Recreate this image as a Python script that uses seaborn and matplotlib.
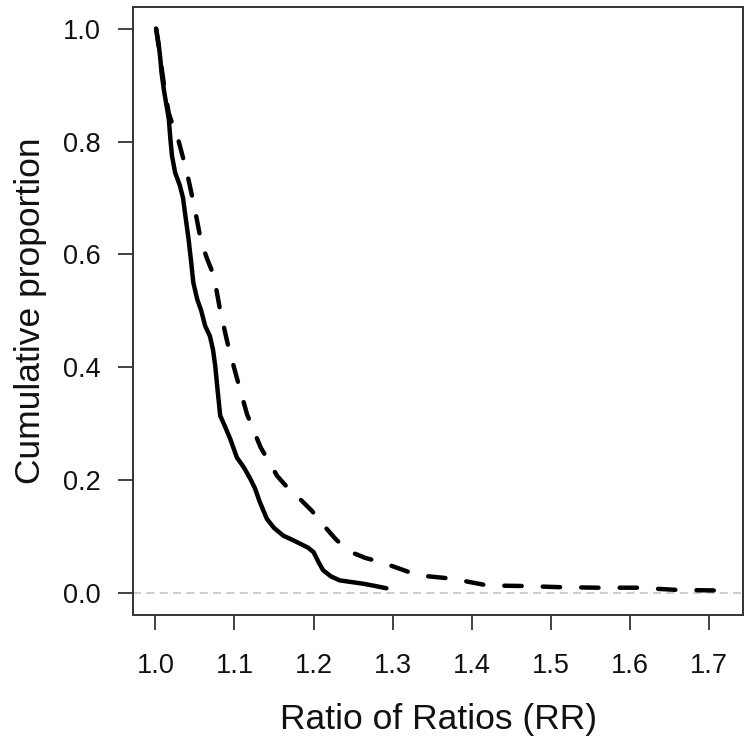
import matplotlib
matplotlib.use("Agg")
import matplotlib.pyplot as plt
import seaborn as sns
import pandas as pd

# Solid curve (series A): ratio of ratios vs cumulative proportion
rr_a = [1.001, 1.004, 1.006, 1.008, 1.011, 1.014, 1.017, 1.019, 1.021, 1.025,
        1.031, 1.035, 1.038, 1.042, 1.045, 1.048, 1.053, 1.058, 1.063, 1.069,
        1.073, 1.0757, 1.079, 1.082, 1.088, 1.0946, 1.103, 1.112, 1.120, 1.126,
        1.132, 1.141, 1.150, 1.162, 1.173, 1.183, 1.193, 1.200, 1.206, 1.212,
        1.222, 1.233, 1.248, 1.263, 1.278, 1.292]
cp_a = [1.000, 0.975, 0.951, 0.920, 0.890, 0.865, 0.840, 0.805, 0.775, 0.745,
        0.722, 0.700, 0.668, 0.627, 0.590, 0.550, 0.520, 0.500, 0.473, 0.455,
        0.430, 0.402, 0.355, 0.314, 0.295, 0.273, 0.240, 0.222, 0.202, 0.185,
        0.161, 0.131, 0.115, 0.101, 0.094, 0.087, 0.080, 0.072, 0.055, 0.040,
        0.029, 0.022, 0.019, 0.016, 0.012, 0.008]

# Dashed curve (series B)
rr_b = [1.001, 1.006, 1.011, 1.017, 1.023, 1.029, 1.040, 1.050, 1.058, 1.066,
        1.074, 1.082, 1.092, 1.104, 1.116, 1.133, 1.154, 1.168, 1.183, 1.198,
        1.213, 1.228, 1.244, 1.265, 1.288, 1.310, 1.332, 1.375, 1.42, 1.465,
        1.51, 1.56, 1.61, 1.66, 1.715]
cp_b = [1.000, 0.950, 0.900, 0.850, 0.825, 0.803, 0.745, 0.680, 0.621, 0.590,
        0.562, 0.500, 0.438, 0.376, 0.316, 0.258, 0.207, 0.185, 0.166, 0.145,
        0.119, 0.095, 0.074, 0.062, 0.053, 0.042, 0.031, 0.025, 0.013, 0.012,
        0.010, 0.009, 0.009, 0.005, 0.004]

x_ticks = [1.0, 1.1, 1.2, 1.3, 1.4, 1.5, 1.6, 1.7]
y_ticks = [0.0, 0.2, 0.4, 0.6, 0.8, 1.0]
x_label = "Ratio of Ratios (RR)"
y_label = "Cumulative proportion"

sns.set_style("white")
plt.rcParams["font.family"] = ["Liberation Sans", "DejaVu Sans"]

fig = plt.figure(figsize=(7.44, 7.47), dpi=100)
ax = fig.add_axes([0.179, 0.177, 0.820, 0.814])

df_a = pd.DataFrame({"rr": rr_a, "cp": cp_a})
df_b = pd.DataFrame({"rr": rr_b, "cp": cp_b})

ax.axhline(0, color="#c4c4c4", lw=1.2, linestyle=(0, (4.8, 3.2)), zorder=1)

sns.lineplot(data=df_a, x="rr", y="cp", sort=False, estimator=None,
             color="black", lw=3.2, ax=ax, zorder=3)
sns.lineplot(data=df_b, x="rr", y="cp", sort=False, estimator=None,
             color="black", lw=3.2, ax=ax, zorder=3,
             linestyle=(0, (3.9, 4.75)), dash_capstyle="round")

ax.set_xlim(0.972, 1.743)
ax.set_ylim(-0.039, 1.039)
ax.set_xticks(x_ticks)
ax.set_xticklabels([f"{v:.1f}" for v in x_ticks])
ax.set_yticks(y_ticks)
ax.set_yticklabels([f"{v:.1f}" for v in y_ticks])

ax.tick_params(axis="both", which="major", direction="out", length=10.5,
               width=1.3, color="#333333", labelsize=19.5, labelcolor="#111111",
               bottom=True, left=True)
ax.tick_params(axis="y", pad=13)
ax.tick_params(axis="x", pad=17)

for s in ax.spines.values():
    s.set_color("#333333")
    s.set_linewidth(1.4)
    s.set_visible(True)

ax.set_xlabel(x_label, fontsize=25.5, color="#111111")
ax.set_ylabel(y_label, fontsize=25.5, color="#111111")
ax.xaxis.label.set_va("center")
ax.yaxis.label.set_va("center")
ax.xaxis.set_label_coords(0.5, -0.173)
ax.yaxis.set_label_coords(-0.168, 0.5)

fig.savefig("out.png", dpi=100)
